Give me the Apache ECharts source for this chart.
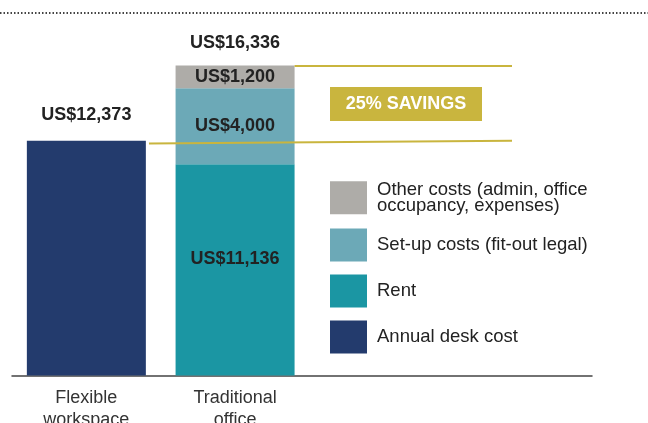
<!DOCTYPE html>
<html>
<head>
<meta charset="utf-8">
<script src="https://cdn.jsdelivr.net/npm/echarts@6/dist/echarts.min.js"></script>
<style>
  html, body { margin: 0; padding: 0; background: #fff; }
  #chart { width: 648px; height: 423px; }
</style>
</head>
<body>
<div id="chart"></div>
<script>
// categories sit at x = 0.5 and 1.5 on a value axis
const categories = ['Flexible\nworkspace', 'Traditional\noffice']
const catPos = [0.5, 1.5]

const deskCost = [12373]
const rent = [11136]
const setup = [4000]
const other = [1200]

const legendNames = [
  'Other costs (admin, office\noccupancy, expenses)',
  'Set-up costs (fit-out legal)',
  'Rent',
  'Annual desk cost',
]

const totalTraditional = rent[0] + setup[0] + other[0]

const fmt = (v) => 'US$' + v.toLocaleString('en-US')

const gold = '#c9b53e'
const font = '"Liberation Sans", Arial, sans-serif'
const valLabel = {
  show: true,
  fontFamily: font,
  fontWeight: 'bold',
  fontSize: 18,
  color: '#222',
}
// value first in each data item so that stacking works on the y values
const enc = { x: 1, y: 0 }
const lbl = (p) => fmt(p.value[0])

const myChart = echarts.init(document.getElementById('chart'))

myChart.setOption({
  animation: false,
  grid: { left: 12, right: 56, top: 34, bottom: 47.5, outerBoundsMode: 'none', containLabel: false },
  xAxis: {
    type: 'value',
    min: 0,
    max: 3.9,
    interval: 0.5,
    splitLine: { show: false },
    axisTick: { show: false },
    axisLine: { show: true, lineStyle: { color: '#444', width: 1.5 } },
    axisLabel: {
      showMinLabel: false,
      showMaxLabel: false,
      margin: 12,
      fontFamily: font,
      fontSize: 18,
      lineHeight: 22,
      color: '#333',
      formatter: (v) => {
        const i = catPos.indexOf(v)
        return i >= 0 ? categories[i] : ''
      },
    },
  },
  yAxis: {
    type: 'value',
    min: 0,
    max: 18000,
    show: false,
    splitLine: { show: false },
  },
  legend: {
    orient: 'vertical',
    left: 330,
    top: 180,
    padding: 0,
    itemWidth: 37,
    itemHeight: 33,
    itemGap: 13,
    icon: 'rect',
    selectedMode: false,
    data: legendNames,
    textStyle: {
      fontFamily: font,
      fontSize: 18.5,
      lineHeight: 16.5,
      color: '#222',
      padding: [0, 0, 0, 5],
    },
  },
  series: [
    {
      name: legendNames[3],
      type: 'bar',
      barWidth: 119,
      barGap: '-100%',
      encode: enc,
      itemStyle: { color: '#233b6d' },
      label: { ...valLabel, position: 'top', distance: 17, formatter: lbl },
      data: [[deskCost[0], catPos[0]]],
      markLine: {
        silent: true,
        symbol: 'none',
        label: { show: false },
        lineStyle: { color: gold, width: 2, type: 'solid' },
        data: [
          [{ coord: [1.9, totalTraditional] }, { coord: [3.362, totalTraditional] }],
          [{ coord: [0.921, deskCost[0] - 150] }, { coord: [3.362, deskCost[0]] }],
        ],
      },
    },
    {
      name: legendNames[2],
      type: 'bar',
      stack: 'trad',
      barWidth: 119,
      barGap: '-100%',
      encode: enc,
      itemStyle: { color: '#1b96a3' },
      label: { ...valLabel, position: 'inside', offset: [0, -11], formatter: lbl },
      data: [[rent[0], catPos[1]]],
    },
    {
      name: legendNames[1],
      type: 'bar',
      stack: 'trad',
      barWidth: 119,
      barGap: '-100%',
      encode: enc,
      itemStyle: { color: '#6ca9b7' },
      label: { ...valLabel, position: 'inside', formatter: lbl },
      data: [[setup[0], catPos[1]]],
    },
    {
      name: legendNames[0],
      type: 'bar',
      stack: 'trad',
      barWidth: 119,
      barGap: '-100%',
      encode: enc,
      itemStyle: { color: '#aeaca8' },
      label: { ...valLabel, position: 'inside', formatter: lbl },
      data: [[other[0], catPos[1]]],
    },
    {
      // zero-height bar on top of the stack that carries the total label
      name: 'total',
      type: 'bar',
      stack: 'trad',
      barWidth: 119,
      barGap: '-100%',
      encode: enc,
      itemStyle: { color: 'transparent' },
      label: { ...valLabel, position: 'top', distance: 14, formatter: () => fmt(totalTraditional) },
      data: [[0, catPos[1]]],
    },
  ],
  graphic: [
    {
      type: 'line',
      shape: { x1: 0, y1: 13, x2: 648, y2: 13 },
      style: { stroke: '#444', lineWidth: 2, lineDash: [1.5, 2] },
    },
    {
      type: 'rect',
      shape: { x: 330, y: 87, width: 152, height: 34 },
      style: { fill: gold },
    },
    {
      type: 'text',
      x: 406,
      y: 104,
      style: {
        text: '25% SAVINGS',
        fill: '#fff',
        font: 'bold 18px "Liberation Sans", Arial, sans-serif',
        align: 'center',
        verticalAlign: 'middle',
      },
    },
  ],
})
</script>
</body>
</html>
